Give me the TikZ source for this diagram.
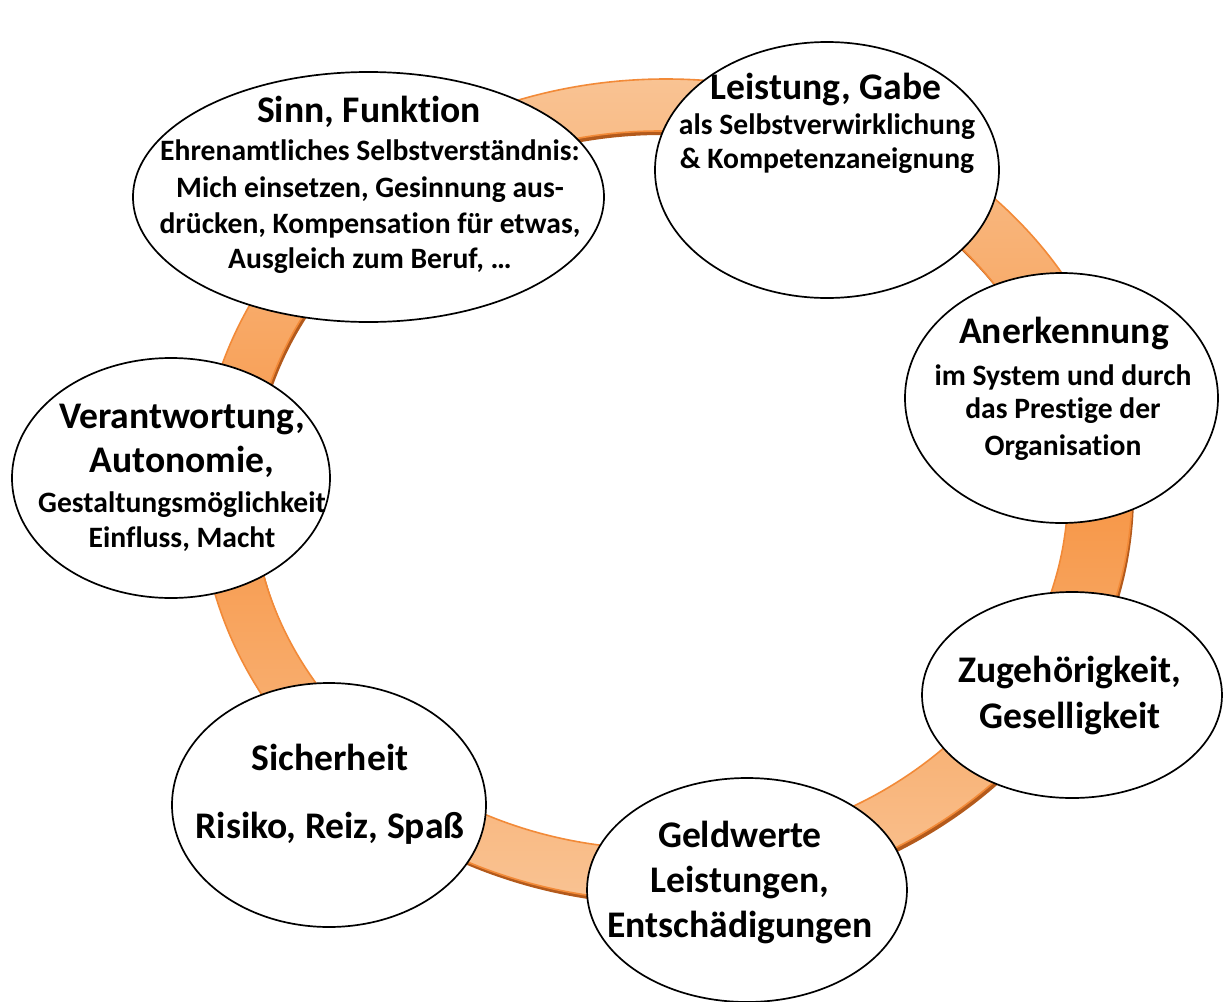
\documentclass[tikz,border=0pt]{standalone}
\usepackage{fontspec}
\setmainfont{Carlito}[Ligatures={NoCommon,NoContextual}]
\usetikzlibrary{shapes.geometric}
\definecolor{peach}{HTML}{F9C393}
\definecolor{ringorange}{HTML}{F79646}
\definecolor{ringedge}{HTML}{F28A38}
\definecolor{ringshadow}{HTML}{B35A1C}
\newcommand\tfont{\fontsize{18.8}{22}\selectfont\bfseries}
\newcommand\sfont{\fontsize{14.8}{18}\selectfont\bfseries}
\tikzset{
  bubble/.style={ellipse, draw=black, line width=0.85pt, fill=white, inner sep=0pt},
  ttl/.style={anchor=base, font=\tfont, inner sep=0pt},
  sub/.style={anchor=base, font=\sfont, inner sep=0pt},
}
\begin{document}
\begin{tikzpicture}[x=0.5pt,y=-0.5pt]
\useasboundingbox (0,0) rectangle (1223,1002);
\fill[white] (0,0) rectangle (1223,1002);
% ring shadow and ring
\fill[ringshadow, even odd rule] (668,494) ellipse (466 and 411) (662,494) ellipse (408 and 359);
\path[even odd rule, draw=ringedge, line width=0.8pt, top color=peach, bottom color=peach, middle color=ringorange]
  (666,490) ellipse (466 and 411) (660,490) ellipse (408 and 359);
% ellipses
\node[bubble, minimum width=235.5pt, minimum height=125pt] (sinn) at (368.5,197) {};
\node[bubble, minimum width=172pt, minimum height=128pt] (leist) at (827,170) {};
\node[bubble, minimum width=156.5pt, minimum height=125pt] (anerk) at (1061.5,398) {};
\node[bubble, minimum width=150pt, minimum height=103pt] (zug) at (1072,695) {};
\node[bubble, minimum width=160pt, minimum height=112pt] (geld) at (747,890) {};
\node[bubble, minimum width=157pt, minimum height=122pt] (sich) at (329,805) {};
\node[bubble, minimum width=159pt, minimum height=120pt] (verant) at (171,478) {};
% texts
\node[ttl] (sinnA) at (369,122) {Sinn, Funktion};
\node[sub] (sinnB) at (370,160) {Ehrenamtliches Selbstverständnis:};
\node[sub] (sinnC) at (370,197) {Mich einsetzen, Gesinnung aus-};
\node[sub] (sinnD) at (370,233) {drücken, Kompensation für etwas,};
\node[sub] (sinnE) at (370,268) {Ausgleich zum Beruf, …};
\node[ttl] (leistA) at (826,99) {Leistung, Gabe};
\node[sub] (leistB) at (827,134) {als Selbstverwirklichung};
\node[sub] (leistC) at (827,168) {\& Kompetenzaneignung};
\node[ttl] (anerkA) at (1064,343) {Anerkennung};
\node[sub] (anerkB) at (1063,385) {im System und durch};
\node[sub] (anerkC) at (1063,418) {das Prestige der};
\node[sub] (anerkD) at (1063,455) {Organisation};
\node[ttl] (zugA) at (1070,682) {Zugehörigkeit,};
\node[ttl] (zugB) at (1070,728) {Geselligkeit};
\node[ttl] (geldA) at (740,847) {Geldwerte};
\node[ttl] (geldB) at (740,892) {Leistungen,};
\node[ttl] (geldC) at (740,937) {Entschädigungen};
\node[ttl] (sichA) at (330,770) {Sicherheit};
\node[ttl] (sichB) at (330,838) {Risiko, Reiz, Spaß};
\node[ttl] (verantA) at (182,428) {Verantwortung,};
\node[ttl] (verantB) at (182,472) {Autonomie,};
\node[sub] (verantC) at (182,512) {Gestaltungsmöglichkeit};
\node[sub] (verantD) at (182,547) {Einfluss, Macht};
\end{tikzpicture}
\end{document}
